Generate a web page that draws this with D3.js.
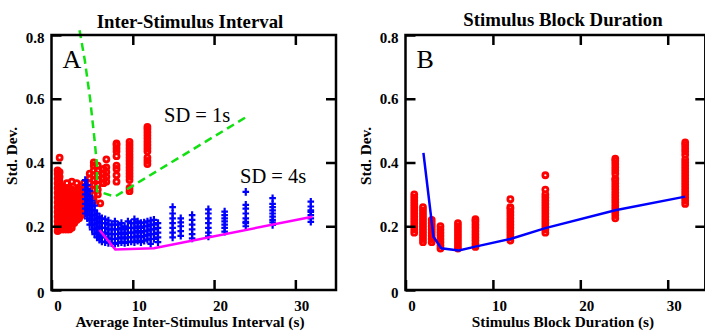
<!DOCTYPE html>
<html>
<head>
<meta charset="utf-8">
<script src="https://cdn.jsdelivr.net/npm/d3@7"></script>
<style>
  html, body { margin: 0; padding: 0; background: #fff; }
  svg { display: block; }
  text { font-family: 'Liberation Serif', 'Times New Roman', serif; }
</style>
</head>
<body>
<svg id="chart" width="705" height="333"></svg>
<script>
// ---- data ----

// panel A: red circles, SD = 1s simulations  [avg ISI, std devs...]
const isiRedCols = [
  [0.75, [0.185, 0.2, 0.215, 0.23, 0.245, 0.26, 0.275, 0.29, 0.305, 0.32, 0.335, 0.35, 0.365, 0.375]],
  [1.0,  [0.19, 0.205, 0.22, 0.235, 0.25, 0.265, 0.28, 0.295, 0.31, 0.325, 0.34, 0.355, 0.37, 0.415]],
  [1.3,  [0.19, 0.205, 0.22, 0.235, 0.25, 0.265, 0.28, 0.295, 0.31, 0.325]],
  [1.6,  [0.19, 0.205, 0.22, 0.235, 0.25, 0.265, 0.28, 0.295, 0.31, 0.32]],
  [1.9,  [0.19, 0.205, 0.22, 0.235, 0.25, 0.265, 0.28, 0.295, 0.31, 0.335]],
  [2.2,  [0.19, 0.205, 0.22, 0.235, 0.25, 0.265, 0.28, 0.295, 0.31, 0.32]],
  [2.5,  [0.195, 0.21, 0.225, 0.24, 0.255, 0.27, 0.285, 0.3, 0.315, 0.34]],
  [2.8,  [0.21, 0.225, 0.24, 0.255, 0.27, 0.285, 0.3, 0.312]],
  [3.1,  [0.22, 0.235, 0.25, 0.265, 0.28, 0.295, 0.31, 0.335]],
  [3.4,  [0.225, 0.24, 0.255, 0.27, 0.285, 0.3, 0.315]],
  [3.7,  [0.235, 0.25, 0.265, 0.28, 0.295, 0.31, 0.325]],
  [4.0,  [0.245, 0.26, 0.275, 0.29, 0.305, 0.32, 0.335]],
  [4.2,  [0.25, 0.265, 0.28, 0.295, 0.31]],
  [4.7,  [0.29, 0.305, 0.32, 0.335, 0.35, 0.365]],
  [5.2,  [0.28, 0.3, 0.315, 0.33, 0.345, 0.36, 0.375, 0.39, 0.4]],
  [5.7,  [0.3, 0.315, 0.33, 0.345, 0.36, 0.375, 0.39]],
  [6.0,  [0.272]],
  [6.4,  [0.335, 0.35, 0.365, 0.38]],
  [6.75, [0.34, 0.355, 0.37, 0.385, 0.41]],
  [8.0,  [0.34, 0.36, 0.38, 0.39, 0.42, 0.435, 0.445, 0.455, 0.46]],
  [9.6,  [0.31, 0.32, 0.345, 0.355, 0.365, 0.375, 0.385, 0.395, 0.405, 0.415, 0.425, 0.435, 0.445, 0.455, 0.465]],
  [11.8, [0.395, 0.405, 0.415, 0.435, 0.445, 0.455, 0.465, 0.475, 0.485, 0.495, 0.505, 0.512]]
]

// panel A: blue crosses, SD = 4s simulations
const isiBlueCols = [
  [4.15, [0.24, 0.255, 0.27, 0.285, 0.3, 0.315, 0.33, 0.345]],
  [4.4,  [0.225, 0.24, 0.255, 0.27, 0.285, 0.3, 0.315, 0.33]],
  [4.7,  [0.205, 0.22, 0.235, 0.25, 0.265, 0.28, 0.295, 0.31]],
  [5.0,  [0.19, 0.205, 0.22, 0.235, 0.25, 0.265, 0.28]],
  [5.3,  [0.175, 0.19, 0.205, 0.22, 0.235, 0.25, 0.265]],
  [5.6,  [0.165, 0.18, 0.195, 0.21, 0.225, 0.24]],
  [5.9,  [0.158, 0.172, 0.186, 0.2, 0.215, 0.23]],
  [6.2,  [0.152, 0.166, 0.18, 0.195, 0.21, 0.225]],
  [6.6,  [0.15, 0.165, 0.18, 0.195, 0.21, 0.222]],
  [7.0,  [0.148, 0.162, 0.176, 0.19, 0.205, 0.218]],
  [7.4,  [0.147, 0.16, 0.175, 0.19, 0.205]],
  [7.8,  [0.145, 0.16, 0.175, 0.19, 0.205, 0.215]],
  [8.2,  [0.148, 0.162, 0.176, 0.19, 0.205]],
  [8.6,  [0.15, 0.165, 0.18, 0.195, 0.21]],
  [9.0,  [0.148, 0.162, 0.176, 0.19, 0.2]],
  [9.4,  [0.15, 0.165, 0.18, 0.195, 0.215]],
  [9.8,  [0.152, 0.166, 0.18, 0.195, 0.21]],
  [10.2, [0.15, 0.165, 0.18, 0.195, 0.21, 0.222]],
  [10.6, [0.155, 0.17, 0.185, 0.2, 0.215]],
  [11.0, [0.15, 0.165, 0.18, 0.195, 0.21]],
  [11.4, [0.155, 0.17, 0.185, 0.2, 0.212]],
  [11.8, [0.158, 0.172, 0.186, 0.2, 0.215]],
  [12.2, [0.145, 0.16, 0.175, 0.19, 0.205, 0.218]],
  [12.6, [0.16, 0.175, 0.19, 0.205, 0.22]],
  [13.1, [0.15, 0.165, 0.18, 0.195, 0.21]],
  [14.9, [0.165, 0.18, 0.195, 0.21, 0.225, 0.24, 0.26]],
  [15.9, [0.17, 0.185, 0.2, 0.212, 0.225]],
  [17.3, [0.162, 0.175, 0.19, 0.205, 0.22, 0.235]],
  [19.3, [0.168, 0.18, 0.195, 0.21, 0.225, 0.24, 0.253]],
  [21.3, [0.183, 0.195, 0.205, 0.215, 0.225, 0.235, 0.246]],
  [23.9, [0.2, 0.21, 0.214, 0.225, 0.24, 0.255, 0.267, 0.308]],
  [27.2, [0.204, 0.212, 0.22, 0.23, 0.24, 0.25, 0.26, 0.27, 0.288]],
  [31.9, [0.214, 0.225, 0.235, 0.245, 0.25, 0.262, 0.277]]
]

// panel A: model curves
const sd1Curve = [[3.45, 0.815], [4.1, 0.72], [4.75, 0.6], [5.3, 0.47], [5.6, 0.39], [5.6, 0.31], [7.8, 0.293], [24.1, 0.545]]
const sd4Curve = [[5.9, 0.188], [7.85, 0.127], [12.6, 0.131], [32.1, 0.23]]

// panel B: red circles per block duration
const blockRedCols = [
  [1,  [0.18, 0.19, 0.2, 0.21, 0.22, 0.23, 0.24, 0.25, 0.26, 0.27, 0.28, 0.29, 0.3]],
  [2,  [0.15, 0.16, 0.17, 0.18, 0.19, 0.2, 0.21, 0.22, 0.23, 0.24, 0.25, 0.26]],
  [3,  [0.15, 0.16, 0.17, 0.18, 0.19, 0.2, 0.21, 0.22]],
  [4,  [0.13, 0.14, 0.15, 0.16, 0.17, 0.18, 0.19, 0.2]],
  [6,  [0.13, 0.14, 0.15, 0.16, 0.17, 0.18, 0.19, 0.2, 0.21]],
  [8,  [0.135, 0.145, 0.155, 0.165, 0.175, 0.185, 0.195, 0.205, 0.215, 0.222]],
  [12, [0.155, 0.165, 0.175, 0.185, 0.195, 0.205, 0.215, 0.225, 0.235, 0.245, 0.255, 0.26, 0.285]],
  [16, [0.18, 0.19, 0.2, 0.21, 0.22, 0.23, 0.24, 0.25, 0.26, 0.27, 0.28, 0.29, 0.3, 0.315, 0.36]],
  [24, [0.225, 0.235, 0.245, 0.255, 0.265, 0.275, 0.285, 0.295, 0.305, 0.315, 0.325, 0.335, 0.345, 0.35, 0.365, 0.375, 0.385, 0.395, 0.405, 0.412]],
  [32, [0.27, 0.28, 0.29, 0.3, 0.31, 0.32, 0.33, 0.34, 0.35, 0.36, 0.37, 0.38, 0.39, 0.4, 0.41, 0.424, 0.435, 0.445, 0.455, 0.463]]
]
const blockCurve = [[2.05, 0.43], [3.2, 0.167], [4.1, 0.131], [6.1, 0.124], [8, 0.136], [12, 0.16], [16, 0.194], [24, 0.25], [32, 0.293]]

const xTicks = [0, 10, 20, 30]
const yTicks = [0, 0.2, 0.4, 0.6, 0.8]

// ---- layout ----
const svg = d3.select('#chart')
const plotTop = 35, plotBottom = 290

const y = d3.scaleLinear().domain([0, 0.8]).range([plotBottom, plotTop])
const xA = d3.scaleLinear().domain([0, 35]).range([51.5, 336])
const xB = d3.scaleLinear().domain([0, 34.3]).range([405.5, 705.3])

const flat = cols => cols.flatMap(([x, ys]) => ys.map(v => [x, v]))

function frame(x, opts) {
  const g = svg.append('g')
  const [x0, x1] = x.range()

  // ticks, pointing inward, on all four sides
  const bottomAx = g.append('g').attr('transform', `translate(0,${plotBottom})`)
    .call(d3.axisBottom(x).tickValues(xTicks).tickSize(-10).tickPadding(10).tickFormat(d3.format('d')))
  const topAx = g.append('g').attr('transform', `translate(0,${plotTop})`)
    .call(d3.axisTop(x).tickValues(xTicks.slice(1)).tickSize(-10).tickFormat(''))
  const leftAx = g.append('g').attr('transform', `translate(${x0},0)`)
    .call(d3.axisLeft(y).tickValues(yTicks).tickSize(-10).tickPadding(7).tickFormat(d3.format('')))
  const rightAx = g.append('g').attr('transform', `translate(${x1},0)`)
    .call(d3.axisRight(y).tickValues(yTicks.slice(1, 4)).tickSize(-10).tickFormat(''))

  ;[bottomAx, topAx, leftAx, rightAx].forEach(a => {
    a.select('.domain').remove()
    a.selectAll('line').attr('stroke', '#000').attr('stroke-width', 2.5)
    a.selectAll('text')
      .attr('fill', '#000')
      .attr('font-size', '15px')
      .attr('font-weight', 'bold')
      .attr('font-family', "'Liberation Serif', serif")
  })
  bottomAx.selectAll('text').attr('dx', 6)
  // the end labels sit a little lower in the original
  leftAx.selectAll('text').filter(d => d === 0).attr('dy', '0.48em')
  leftAx.selectAll('text').filter(d => d === 0.8).attr('dy', '0.5em')

  g.append('rect')
    .attr('x', x0).attr('y', plotTop)
    .attr('width', x1 - x0).attr('height', plotBottom - plotTop)
    .attr('fill', 'none').attr('stroke', '#000').attr('stroke-width', 2.5)

  // title, axis labels, panel letter
  const cx = opts.cx
  svg.append('text').attr('x', cx).attr('y', opts.titleY).attr('text-anchor', 'middle')
    .attr('font-size', '18.8px').attr('font-weight', 'bold').text(opts.title)
  svg.append('text').attr('x', cx).attr('y', 327).attr('text-anchor', 'middle')
    .attr('font-size', '15.3px').attr('font-weight', 'bold').text(opts.xlabel)
  svg.append('text')
    .attr('transform', `translate(${x0 - 35},156) rotate(-90)`)
    .attr('text-anchor', 'middle')
    .attr('font-size', '15.3px').attr('font-weight', 'bold').text('Std. Dev.')
  svg.append('text').attr('x', x0 + 11).attr('y', 68)
    .attr('font-size', '26px').text(opts.letter)
}

function circles(x, cols) {
  svg.append('g').selectAll('circle')
    .data(flat(cols))
    .enter()
    .append('circle')
    .attr('cx', d => x(d[0]))
    .attr('cy', d => y(d[1]))
    .attr('r', 2.5)
    .attr('fill', 'none')
    .attr('stroke', '#ff0000')
    .attr('stroke-width', 2.8)
}

function crosses(x, cols) {
  svg.append('g').selectAll('path')
    .data(flat(cols))
    .enter()
    .append('path')
    .attr('transform', d => `translate(${x(d[0])},${y(d[1])})`)
    .attr('d', 'M-3.3,0H3.3M0,-3.8V3.8')
    .attr('stroke', '#0000ff')
    .attr('stroke-width', 2.2)
}

function curve(x, pts, color, dash) {
  svg.append('path')
    .datum(pts)
    .attr('d', d3.line().x(d => x(d[0])).y(d => y(d[1])))
    .attr('fill', 'none')
    .attr('stroke', color)
    .attr('stroke-width', 2.5)
    .attr('stroke-dasharray', dash || null)
}

// ---- panel A ----
circles(xA, isiRedCols)
crosses(xA, isiBlueCols)
curve(xA, sd1Curve, '#11e011', '8,5')
curve(xA, sd4Curve, '#ff00ff')
frame(xA, { cx: 190, titleY: 28, title: 'Inter-Stimulus Interval',
  xlabel: 'Average Inter-Stimulus Interval (s)', letter: 'A' })

svg.append('text').attr('x', 164).attr('y', 121.5)
  .attr('font-size', '20.5px').text('SD = 1s')
svg.append('text').attr('x', 240).attr('y', 183)
  .attr('font-size', '20.5px').text('SD = 4s')

// ---- panel B ----
circles(xB, blockRedCols)
curve(xB, blockCurve, '#0000ff')
frame(xB, { cx: 563, titleY: 26, title: 'Stimulus Block Duration',
  xlabel: 'Stimulus Block Duration (s)', letter: 'B' })
</script>
</body>
</html>
